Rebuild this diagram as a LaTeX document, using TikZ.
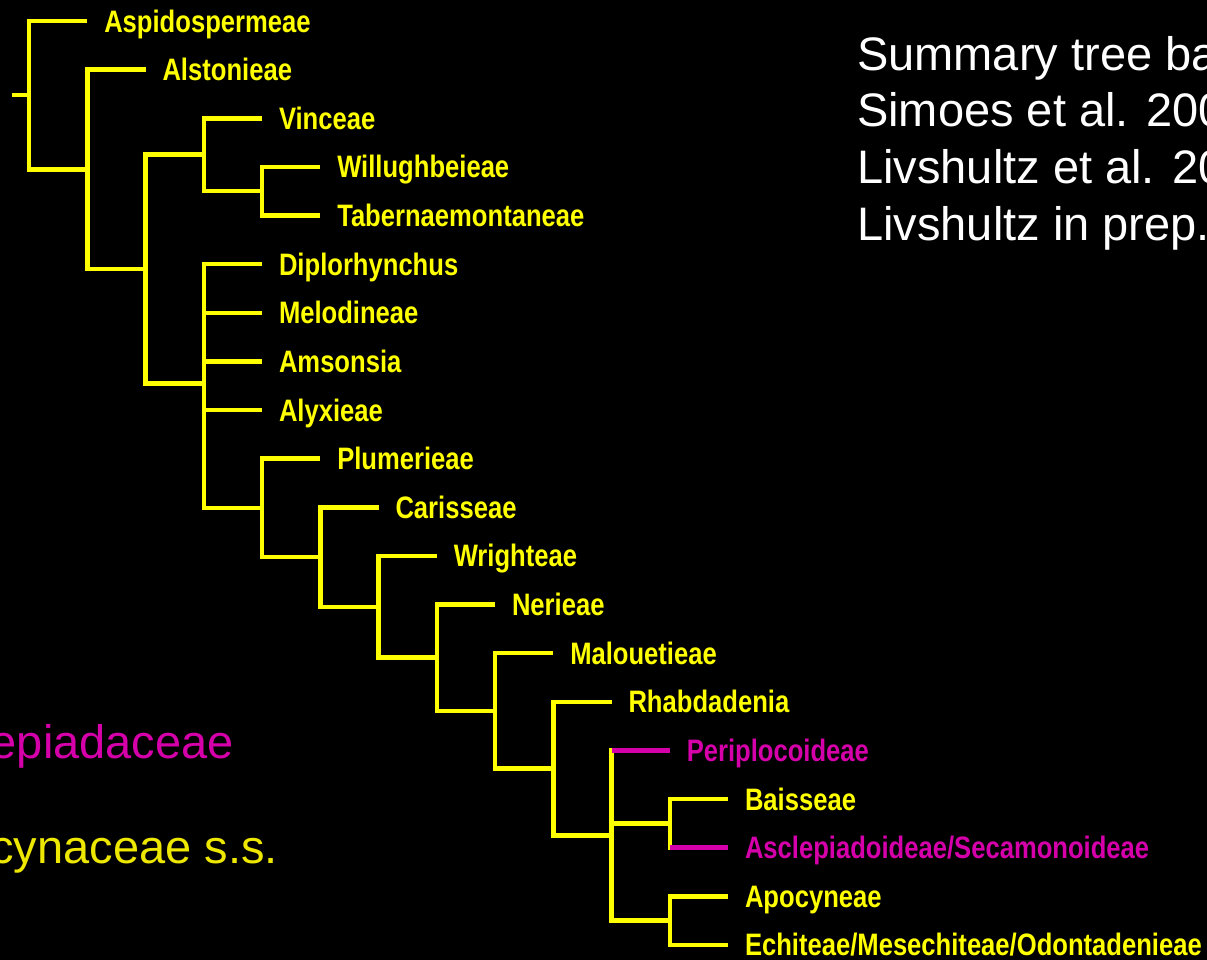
\documentclass[tikz,border=0pt]{standalone}
\usepackage{fontspec}
\setmainfont{Liberation Sans}
\newfontfamily\cladefont[FakeStretch=0.826]{Liberation Sans Bold}
\usepackage{tikz}
\usetikzlibrary{positioning}
\definecolor{treeyellow}{RGB}{255,255,0}
\definecolor{asclmagenta}{RGB}{214,0,170}
\definecolor{groupyellow}{RGB}{238,232,0}
\tikzset{branch/.style = {draw = treeyellow, line width = 4.5bp}}
\tikzset{asclbranch/.style = {draw = asclmagenta, line width = 4.5bp}}
\tikzset{taxon/.style = {anchor = west, inner sep = 0, outer xsep = 17bp,
                         text height = 22bp, text depth = 0pt, text = treeyellow,
                         font = \cladefont\fontsize{31bp}{31bp}\selectfont}}
\tikzset{bigtext/.style = {inner sep = 0, font = \fontsize{47bp}{56.7bp}\selectfont}}

\begin{document}
\begin{tikzpicture}
  \useasboundingbox (0, 0) rectangle (1207bp, -960bp);
  \fill [black] (0, 0) rectangle (1207bp, -960bp);
  \clip (0, 0) rectangle (1207bp, -960bp);
  \node [bigtext, anchor = base west, text = white] (src1) at (857bp, -70bp) {Summary tree based on};
  \node [bigtext, anchor = base west, text = white] (src2) at (857bp, -126.7bp) {Simoes et al. 2007};
  \node [bigtext, anchor = base west, text = white] (src3) at (857bp, -183.4bp) {Livshultz et al. 2007};
  \node [bigtext, anchor = base west, text = white] (src4) at (857bp, -240bp) {Livshultz in prep.};
  \node [bigtext, anchor = base east, text = asclmagenta] (ascl) at (234bp, -758bp) {Asclepiadaceae};
  \node [bigtext, anchor = base east, text = groupyellow] (apoc) at (278bp, -863bp) {Apocynaceae s.s.};
  \begin{scope}[shift = {(29bp, -21bp)}, x = 58.25bp, y = -48.63bp]
    % inner nodes of the tree
    \coordinate (root) at (-0.3, 1.525);
    \coordinate (n1) at (0, 1.525);
    \coordinate (n2) at (1, 3.05);
    \coordinate (n3) at (2, 5.1);
    \coordinate (n4) at (3, 2.75);
    \coordinate (n5) at (4, 3.5);
    \coordinate (n6) at (3, 7.45);
    \coordinate (n7) at (4, 10.01);
    \coordinate (n8) at (5, 11.02);
    \coordinate (n9) at (6, 12.05);
    \coordinate (n10) at (7, 13.09);
    \coordinate (n11) at (8, 14.19);
    \coordinate (n12) at (9, 15.375);
    \coordinate (n13) at (10, 16.75);
    \coordinate (n14) at (11, 16.5);
    \coordinate (n15) at (11, 18.5);
    % tips
    \node [taxon] (asp) at (1, 0) {Aspidospermeae};
    \node [taxon] (als) at (2, 1) {Alstonieae};
    \node [taxon] (vin) at (4, 2) {Vinceae};
    \node [taxon] (wil) at (5, 3) {Willughbeieae};
    \node [taxon] (tab) at (5, 4) {Tabernaemontaneae};
    \node [taxon] (dip) at (4, 5) {Diplorhynchus};
    \node [taxon] (mel) at (4, 6) {Melodineae};
    \node [taxon] (ams) at (4, 7) {Amsonsia};
    \node [taxon] (aly) at (4, 8) {Alyxieae};
    \node [taxon] (plu) at (5, 9) {Plumerieae};
    \node [taxon] (car) at (6, 10) {Carisseae};
    \node [taxon] (wri) at (7, 11) {Wrighteae};
    \node [taxon] (ner) at (8, 12) {Nerieae};
    \node [taxon] (mal) at (9, 13) {Malouetieae};
    \node [taxon] (rha) at (10, 14) {Rhabdadenia};
    \node [taxon, text = asclmagenta] (per) at (11, 15) {Periplocoideae};
    \node [taxon] (bai) at (12, 16) {Baisseae};
    \node [taxon, text = asclmagenta] (asc) at (12, 17) {Asclepiadoideae/Secamonoideae};
    \node [taxon] (apo) at (12, 18) {Apocyneae};
    \node [taxon] (ech) at (12, 19) {Echiteae/Mesechiteae/Odontadenieae};
    % branches
    \draw [branch] (root) -- (n1);
    \foreach \a/\b in {n1/asp.west, n1/n2, n2/als.west, n2/n3, n3/n4, n3/n6,
                       n4/vin.west, n4/n5, n5/wil.west, n5/tab.west,
                       n6/dip.west, n6/mel.west, n6/ams.west, n6/aly.west, n6/n7,
                       n7/plu.west, n7/n8, n8/car.west, n8/n9, n9/wri.west, n9/n10,
                       n10/ner.west, n10/n11, n11/mal.west, n11/n12, n12/rha.west, n12/n13,
                       n13/per.west, n13/n14, n13/n15, n14/bai.west, n14/asc.west,
                       n15/apo.west, n15/ech.west}
      \draw [branch] (\a) |- (\b);
    \draw [asclbranch] (per.west -| n13) -- (per.west);
    \draw [asclbranch] (asc.west -| n14) -- (asc.west);
  \end{scope}
\end{tikzpicture}
\end{document}
